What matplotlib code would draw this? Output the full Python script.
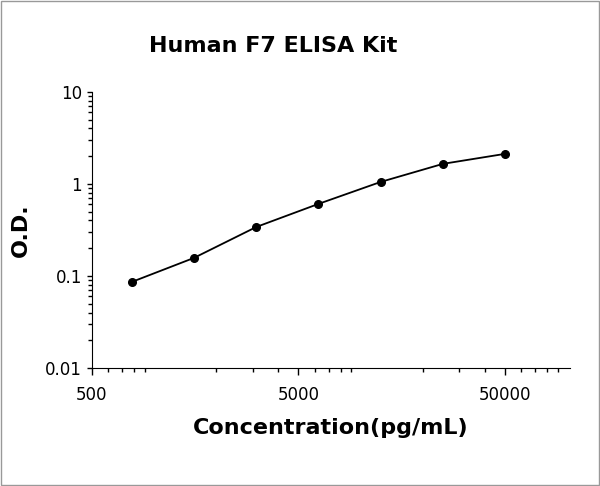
import matplotlib
matplotlib.use("Agg")
import matplotlib.pyplot as plt
from matplotlib.ticker import LogLocator, FixedLocator, NullFormatter

conc = [781.25, 1562.5, 3125, 6250, 12500, 25000, 50000]
od = [0.086, 0.157, 0.34, 0.606, 1.05, 1.65, 2.12]
xticks = [500, 5000, 50000]
yticks = [0.01, 0.1, 1, 10]

fig = plt.figure(figsize=(6, 4.86), dpi=100)
ax = fig.add_axes([0.153, 0.243, 0.797, 0.568])
ax.plot(conc, od, color="black", lw=1.3, marker="o", ms=5.5)
ax.set_xscale("log"); ax.set_yscale("log")
ax.set_xlim(500, 103000); ax.set_ylim(0.01, 10)
ax.xaxis.set_major_locator(FixedLocator(xticks))
ax.set_xticklabels([str(v) for v in xticks])
ax.yaxis.set_major_locator(FixedLocator(yticks))
ax.set_yticklabels(["0.01", "0.1", "1", "10"])
ax.xaxis.set_minor_locator(LogLocator(base=10, subs=range(2, 10)))
ax.yaxis.set_minor_locator(LogLocator(base=10, subs=range(2, 10)))
ax.xaxis.set_minor_formatter(NullFormatter()); ax.yaxis.set_minor_formatter(NullFormatter())
for s in ["top", "right"]:
    ax.spines[s].set_visible(False)
ax.tick_params(which="both", direction="out", labelsize=12, width=1)
ax.tick_params(axis="x", which="major", length=5, pad=8)
ax.tick_params(which="minor", length=3)
ax.set_xlabel("Concentration(pg/mL)", fontsize=16, fontweight="bold", labelpad=10)
ax.set_ylabel("O.D.", fontsize=16, fontweight="bold", labelpad=10)
fig.text(0.455, 0.905, "Human F7 ELISA Kit", fontsize=16, fontweight="bold", ha="center", va="center")
fig.patches.append(plt.Rectangle((0.002, 0.002), 0.996, 0.996, transform=fig.transFigure,
                                 fill=False, edgecolor="#999999", lw=1))
fig.savefig("out.png", dpi=100)
